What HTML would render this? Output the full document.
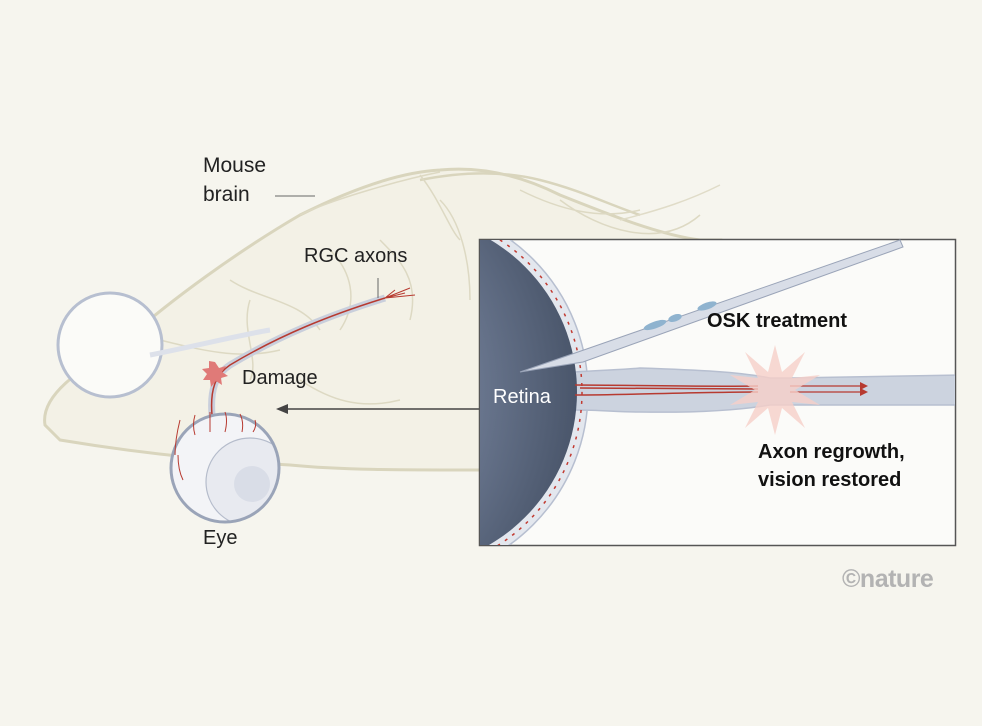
<!DOCTYPE html>
<html><head><meta charset="utf-8"><style>
html,body{margin:0;padding:0;background:#f6f5ee;}
svg{display:block;font-family:"Liberation Sans",sans-serif;}
</style></head><body>
<svg width="982" height="726" viewBox="0 0 982 726">
<defs>
<radialGradient id="ret" cx="0.15" cy="0.5" r="0.85">
<stop offset="0" stop-color="#c3cad7"/><stop offset="0.55" stop-color="#74819a"/><stop offset="1" stop-color="#4a566b"/>
</radialGradient>
<clipPath id="box"><rect x="480" y="240" width="475" height="305"/></clipPath>
<clipPath id="eyec"><circle cx="225" cy="468" r="53"/></clipPath>
</defs>
<rect width="982" height="726" fill="#f6f5ee"/>
<!-- brain -->
<path d="M45,425 C40,395 80,370 120,345 C170,300 240,250 300,215 C350,190 400,172 440,170 C480,166 520,175 560,195 C610,215 660,235 700,240 L720,240 L600,470 C560,470 520,470 480,470 C400,470 340,470 290,465 C200,460 120,450 60,440 Z" fill="#f3f1e6" stroke="#d9d5bd" stroke-width="3"/>
<path d="M420,180 C460,172 500,170 540,180 C580,190 610,205 640,215" fill="none" stroke="#d9d5bd" stroke-width="2.5"/>
<path d="M620,220 C660,210 690,200 720,185" fill="none" stroke="#e0dcc8" stroke-width="1.5"/>
<path d="M300,215 C330,200 400,180 440,172 M420,175 C440,200 450,230 460,240 M230,280 C260,300 300,300 320,330 M250,300 C240,330 260,360 250,380 M330,250 C350,270 360,300 340,330 M380,240 C400,260 420,280 410,320 M160,340 C200,350 240,360 280,350 M300,380 C330,400 360,410 400,400 M440,200 C460,220 470,260 470,300 M520,190 C560,210 600,220 640,210 M560,200 C600,230 660,250 700,215" fill="none" stroke="#ddd9c3" stroke-width="1.5"/>
<line x1="275" y1="196" x2="315" y2="196" stroke="#666" stroke-width="1"/>
<!-- olfactory bulb circle -->
<circle cx="110" cy="345" r="52" fill="#fbfbf8" stroke="#b7bfd0" stroke-width="3"/>
<!-- optic tract -->
<path d="M150,355 C200,345 240,335 270,330" fill="none" stroke="#dde1ea" stroke-width="5"/>
<path d="M212,415 C210,390 215,375 230,365 C280,335 330,315 385,298" fill="none" stroke="#c9cfdc" stroke-width="7"/>
<path d="M212,415 C210,390 215,375 230,365 C280,335 330,315 385,298" fill="none" stroke="#b73a30" stroke-width="1.5"/>
<path d="M385,298 l10,-8 M385,298 l20,-5 M385,298 l30,-3 M385,298 l25,-10" stroke="#b73a30" stroke-width="1" fill="none"/>
<line x1="378" y1="278" x2="378" y2="298" stroke="#666" stroke-width="1"/>
<!-- damage star -->
<polygon points="215,362 219,368 226,366 222,372 228,376 221,378 222,385 216,381 211,387 210,380 203,380 207,374 202,369 209,368 209,361" fill="#e07a78"/>
<!-- eye -->
<circle cx="225" cy="468" r="54" fill="#f3f4f7"/>
<g clip-path="url(#eyec)">
<circle cx="250" cy="482" r="44" fill="#e8eaf0" stroke="#b5bccb" stroke-width="1.2"/>
<circle cx="252" cy="484" r="18" fill="#d9dde7"/>
</g>
<circle cx="225" cy="468" r="54" fill="none" stroke="#9aa4b8" stroke-width="3"/>
<path d="M180,420 q-5,20 -5,35 M195,415 q-3,10 0,20 M210,412 v20 M225,412 q3,8 0,20 M240,414 q4,8 2,18 M255,420 q2,6 -2,12 M178,455 q0,15 5,25" stroke="#b73a30" stroke-width="1" fill="none"/>
<!-- arrow -->
<line x1="283" y1="409" x2="479" y2="409" stroke="#444" stroke-width="1.5"/>
<polygon points="276,409 288,404 288,414" fill="#444"/>
<!-- inset box -->
<rect x="479.5" y="239.5" width="476" height="306" fill="#fbfbf9" stroke="#555" stroke-width="1.5"/>
<g clip-path="url(#box)">
<circle cx="400" cy="392" r="188" fill="#e3e7ee" stroke="#b7bfd0" stroke-width="1.5"/>
<path d="M575,372 C600,370 620,370 640,368 C700,370 740,372 770,378 L790,378 L960,375 L960,405 L790,405 L770,405 C740,410 700,413 640,412 C620,412 600,410 575,410 Z" fill="#ccd3df" stroke="#b7bfd0" stroke-width="1.5"/>
<circle cx="400" cy="392" r="177" fill="url(#ret)"/>
<path d="M575,385 C620,385 700,387 758,386 M575,395 C620,395 700,392 758,392 M580,388 L758,389" stroke="#b73a30" stroke-width="1.5" fill="none"/>
<path d="M790,386 L865,386 M790,392 L865,392" stroke="#b73a30" stroke-width="1.2"/>
<polygon points="868,386 860,382 860,390" fill="#b73a30"/><polygon points="868,392 860,388 860,396" fill="#b73a30"/>
<circle cx="400" cy="392" r="182" fill="none" stroke="#c23a30" stroke-width="1.5" stroke-dasharray="3,6"/>
</g>
<!-- burst -->
<polygon points="775,345 782,372 805,352 792,378 820,375 795,390 820,405 792,402 805,428 782,408 775,435 768,408 745,428 758,402 730,405 755,390 730,375 758,378 745,352 768,372" fill="#f6cfc8" opacity="0.8"/>
<!-- pipette -->
<polygon points="520,372 578,352 900,240 903,247 583,362" fill="#d8dde7" stroke="#9aa4b8" stroke-width="1"/>
<ellipse cx="655" cy="325" rx="12" ry="3.5" fill="#8fb3cf" transform="rotate(-19 655 325)"/>
<ellipse cx="675" cy="318" rx="7" ry="3.5" fill="#8fb3cf" transform="rotate(-19 675 318)"/>
<ellipse cx="707" cy="306" rx="10" ry="3.5" fill="#8fb3cf" transform="rotate(-19 707 306)"/>
<!-- texts -->
<text x="203" y="172" font-size="21" fill="#222">Mouse</text>
<text x="203" y="201" font-size="21" fill="#222">brain</text>
<text x="304" y="262" font-size="20" fill="#222">RGC axons</text>
<text x="242" y="384" font-size="20" fill="#222">Damage</text>
<text x="203" y="544" font-size="20" fill="#222">Eye</text>
<text x="493" y="403" font-size="20" fill="#fff">Retina</text>
<text x="707" y="327" font-size="20" font-weight="bold" fill="#111">OSK treatment</text>
<text x="758" y="458" font-size="20" font-weight="bold" fill="#111">Axon regrowth,</text>
<text x="758" y="486" font-size="20" font-weight="bold" fill="#111">vision restored</text>
<text x="842" y="587" font-size="25" font-weight="bold" fill="#b3b3b3" letter-spacing="-0.5">©nature</text>
</svg>
</body></html>
